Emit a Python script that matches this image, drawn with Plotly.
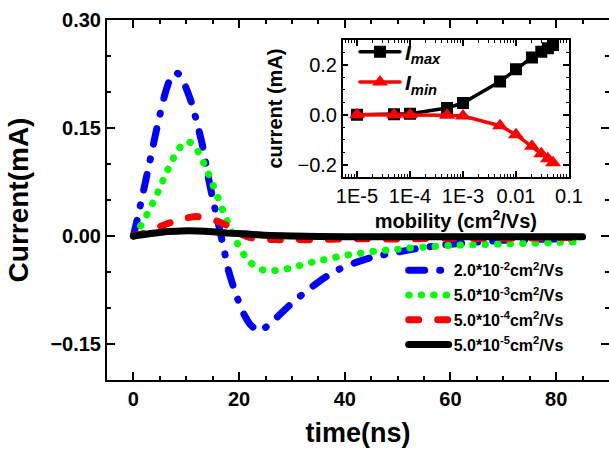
import plotly.graph_objects as go

# ---------------- main chart data ----------------
t_blue = [0, 1, 2, 3, 4, 5, 6, 7, 8, 9, 10, 11, 12, 13, 14, 15, 16, 17, 18, 19, 20, 21, 22, 23, 23.8,
          25, 27, 29, 31, 33, 35, 37, 39, 42, 45, 48, 51, 54, 58, 62, 66, 70, 75, 80, 85]
i_blue = [0, 0.032, 0.066, 0.1, 0.135, 0.168, 0.198, 0.219, 0.227, 0.222, 0.205, 0.185, 0.158, 0.128,
          0.088, 0.052, 0.02, -0.014, -0.048, -0.072, -0.093, -0.11, -0.122, -0.129, -0.132,
          -0.127, -0.114, -0.1, -0.087, -0.075, -0.064, -0.054, -0.046, -0.037, -0.03, -0.025,
          -0.021, -0.017, -0.013, -0.010, -0.008, -0.006, -0.005, -0.004, -0.003]

t_green = [0, 1, 2, 3, 4, 5, 6, 7, 8, 9, 10, 11, 12, 13, 14, 15, 16, 17, 18, 19, 20, 21, 22, 23, 24,
           25, 26.5, 28, 30, 32, 34, 36, 38, 40, 43, 46, 49, 52, 56, 60, 65, 70, 75, 80, 85]
i_green = [0, 0.01, 0.022, 0.036, 0.051, 0.067, 0.084, 0.1, 0.114, 0.125, 0.131, 0.129, 0.12, 0.106,
           0.09, 0.072, 0.053, 0.034, 0.016, 0.0, -0.015, -0.027, -0.036, -0.042, -0.046, -0.048,
           -0.048, -0.047, -0.044, -0.04, -0.036, -0.033, -0.03, -0.027, -0.024, -0.021, -0.019,
           -0.017, -0.015, -0.013, -0.012, -0.011, -0.01, -0.009, -0.008]

t_red = [0, 2, 4, 6, 8, 10, 12, 14, 16, 18.5, 20, 22, 24, 27, 30, 35, 40, 50, 60, 70, 85]
i_red = [0, 0.004, 0.01, 0.016, 0.021, 0.025, 0.027, 0.025, 0.02, 0.012, 0.004, -0.002, -0.004,
         -0.005, -0.005, -0.005, -0.004, -0.004, -0.003, -0.003, -0.002]

t_black = [0, 3, 6, 9, 12, 15, 18, 21, 25, 30, 40, 50, 60, 70, 85]
i_black = [0, 0.003, 0.006, 0.007, 0.007, 0.006, 0.004, 0.003, 0.001, 0.0, -0.001, -0.001, -0.001,
           -0.001, -0.001]

series_names = ["2.0*10<sup>-2</sup>cm<sup>2</sup>/Vs", "5.0*10<sup>-3</sup>cm<sup>2</sup>/Vs",
                "5.0*10<sup>-4</sup>cm<sup>2</sup>/Vs", "5.0*10<sup>-5</sup>cm<sup>2</sup>/Vs"]

# ---------------- inset data ----------------
mobility = [1e-5, 5e-5, 1e-4, 5e-4, 1e-3, 5e-3, 1e-2, 2e-2, 3e-2, 4e-2, 5e-2]
i_max = [0.0, 0.002, 0.004, 0.027, 0.047, 0.133, 0.183, 0.23, 0.253, 0.267, 0.28]
i_min = [0.0, 0.0, 0.0, -0.002, -0.005, -0.044, -0.08, -0.127, -0.157, -0.177, -0.193]

inset_tickvals = [1e-5, 1e-4, 1e-3, 1e-2, 1e-1]
inset_ticktext = ["1E-5", "1E-4", "1E-3", "0.01", "0.1"]

FONT = "Arial, 'Liberation Sans', sans-serif"

fig = go.Figure()

curves = [
    (t_blue, i_blue, series_names[0], "#0000FF", "16px,15px,1px,15px"),
    (t_green, i_green, series_names[1], "#00FF00", "0.5px,12px"),
    (t_red, i_red, series_names[2], "#FF0000", "10px,19px"),
    (t_black, i_black, series_names[3], "#000000", "solid"),
]
for k, (t, i, name, color, dash) in enumerate(curves):
    fig.add_trace(go.Scatter(
        x=t, y=i, mode="lines", name=name, legendgroup="m%d" % k,
        line=dict(color=color, width=7, dash=dash, shape="spline", smoothing=0.6),
        xaxis="x", yaxis="y", legend="legend"))

fig.add_trace(go.Scatter(
    x=mobility, y=i_max, mode="lines+markers", legendgroup="imax",
    name="<b><i>I</i></b><sub><b><i>max</i></b></sub>",
    line=dict(color="black", width=3.5),
    marker=dict(symbol="square", size=12, color="black"),
    xaxis="x2", yaxis="y2", legend="legend2"))
fig.add_trace(go.Scatter(
    x=mobility, y=i_min, mode="lines+markers", legendgroup="imin",
    name="<b><i>I</i></b><sub><b><i>min</i></b></sub>",
    line=dict(color="#FF0000", width=3.5),
    marker=dict(symbol="triangle-up", size=14, color="#FF0000"),
    xaxis="x2", yaxis="y2", legend="legend2"))

axis_common = dict(showline=True, linecolor="black", linewidth=2, mirror="ticks",
                   ticks="inside", tickcolor="black", tickwidth=2, ticklen=8,
                   showgrid=False, zeroline=False)

fig.update_layout(
    width=609, height=449,
    margin=dict(l=107, r=0, t=20, b=69, autoexpand=False),
    paper_bgcolor="white", plot_bgcolor="white",
    font=dict(family=FONT, color="black"),
    xaxis=dict(domain=[0, 1], range=[-5, 90], dtick=20, tick0=0,
               tickfont=dict(size=20, weight="bold"),
               minor=dict(dtick=5, tick0=0, ticks="inside", ticklen=4, tickwidth=1.5,
                          tickcolor="black", showgrid=False),
               title=dict(text="<b>time(ns)</b>", font=dict(size=27), standoff=14),
               **axis_common),
    yaxis=dict(domain=[0, 1], range=[-0.2, 0.3], dtick=0.15, tick0=0, tickformat=".2f",
               tickfont=dict(size=20, weight="bold"),
               minor=dict(dtick=0.05, tick0=0, ticks="inside", ticklen=4, tickwidth=1.5,
                          tickcolor="black", showgrid=False),
               title=dict(text="<b>Current(mA)</b>", font=dict(size=28), standoff=14),
               **axis_common),
    xaxis2=dict(domain=[0.4695, 0.9203], anchor="y2", type="log", range=[-5.27, -1],
                tickmode="array", tickvals=inset_tickvals, ticktext=inset_ticktext,
                tickfont=dict(size=20),
                minor=dict(dtick="D1", ticks="inside", ticklen=3, tickwidth=1,
                           tickcolor="black", showgrid=False),
                title=dict(text="<b>mobility (cm<sup>2</sup>/Vs)</b>", font=dict(size=20), standoff=2),
                **{**axis_common, "ticklen": 6, "linewidth": 1.5, "tickwidth": 1.5}),
    yaxis2=dict(domain=[0.5639, 0.9444], anchor="x2", range=[-0.25, 0.3], dtick=0.2, tick0=0,
                tickformat=".1f", tickfont=dict(size=20),
                minor=dict(dtick=0.05, tick0=0, ticks="inside", ticklen=3, tickwidth=1,
                           tickcolor="black", showgrid=False),
                title=dict(text="<b>current (mA)</b>", font=dict(size=20), standoff=9),
                **{**axis_common, "ticklen": 6, "linewidth": 1.5, "tickwidth": 1.5}),
    legend=dict(x=0.591, y=0.352, xanchor="left", yanchor="top", bgcolor="rgba(0,0,0,0)",
                font=dict(size=16, weight="bold"), tracegroupgap=1, itemwidth=40),
    legend2=dict(x=0.494, y=0.968, xanchor="left", yanchor="top", bgcolor="rgba(0,0,0,0)",
                 font=dict(size=21), tracegroupgap=0, itemwidth=40),
    showlegend=True,
)

post = """
document.querySelectorAll('path.js-line').forEach(function(p){
  p.style.strokeLinecap='round'; p.style.strokeLinejoin='round';
});
"""
fig.write_html("out.html", post_script=post)
